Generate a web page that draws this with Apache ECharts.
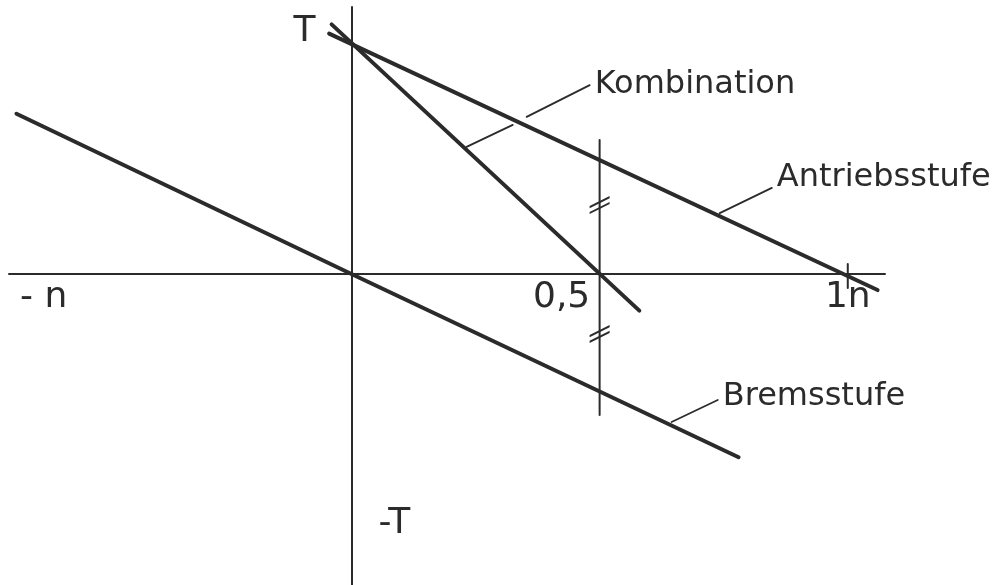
<!DOCTYPE html>
<html>
<head>
<meta charset="utf-8">
<script src="https://cdn.jsdelivr.net/npm/echarts@6/dist/echarts.min.js"></script>
<style>
html, body { margin: 0; padding: 0; background: #fff; }
#main { width: 1004px; height: 585px; }
</style>
</head>
<body>
<div id="main"></div>
<script>
// n on the x axis, T on the y axis, both scaled to 1
var xTickValues = [-0.62, 0.5, 1];
var xTickLabels = ['- n', '0,5', '1n'];
var yLabelValues = [1.06, -1.092];
var yLabelTexts = ['T', '-T'];

var antrieb = [[-0.045, 1.05], [1.06, -0.07]];
var kombination = [[-0.04, 1.09], [0.58, -0.16]];
var brems = [[-0.675, 0.70], [0, 0], [0.78, -0.80]];
var halfLine = [[0.5, 0.585], [0.5, -0.616]];
var equalMarks = [[0.5, 0.301], [0.5, -0.262]];
var unitTick = [[1, 0.044], [1, -0.061]];

var leaderNames = ['Kombination', 'Antriebsstufe', 'Bremsstufe'];
var leaders = [
  [[[0.232, 0.555], [0.325, 0.651]], [[0.353, 0.686], [0.480, 0.825]]],
  [[[0.742, 0.266], [0.847, 0.376]]],
  [[[0.645, -0.646], [0.738, -0.550]]]
];

var ink = '#2b2b2b';
var font = 'DejaVu Sans';
var labelOffsets = [[0, 0], [0, -10], [0, -3]];
var xLabelOffsets = [[0, 0], [-38, 0], [0, 0]];

function line(data, width) {
  return {
    type: 'line', data: data, showSymbol: false, silent: true, z: 3,
    lineStyle: { color: ink, width: width, cap: 'round' }
  };
}

// invisible anchor points that only carry a text label
function textPoints(items) {
  return {
    type: 'scatter', symbolSize: 0, silent: true,
    itemStyle: { opacity: 1 },
    data: items
  };
}

var series = [
  line(antrieb, 4),
  line(kombination, 4),
  line(brems, 4),
  line(halfLine, 2),
  line(unitTick, 2)
];

leaders.forEach(function (segs, i) {
  segs.forEach(function (s) { series.push(line(s, 1.8)); });
  var last = segs[segs.length - 1];
  series.push(textPoints([{
    value: last[1],
    label: {
      show: true, position: 'right', distance: 5, offset: labelOffsets[i],
      formatter: leaderNames[i], color: ink, fontFamily: font, fontSize: 32
    }
  }]));
});

series.push(textPoints(xTickValues.map(function (v, i) {
  return {
    value: [v, 0],
    label: {
      show: true, formatter: xTickLabels[i], position: 'bottom', distance: 6,
      offset: xLabelOffsets[i],
      color: ink, fontFamily: font, fontSize: 36
    }
  };
})));

series.push(textPoints(yLabelValues.map(function (v, i) {
  return {
    value: [0, v],
    label: {
      show: true, formatter: yLabelTexts[i],
      position: v > 0 ? 'left' : 'right', distance: v > 0 ? 36 : 27,
      color: ink, fontFamily: font, fontSize: 36
    }
  };
})));

series.push({
  type: 'scatter', silent: true,
  symbol: 'path://M0,10 L20,0 L20,2.2 L0,12.2 Z M0,15.8 L20,5.8 L20,8 L0,18 Z',
  symbolSize: [20, 18],
  itemStyle: { color: ink, opacity: 1 },
  data: equalMarks
});

var myChart = echarts.init(document.getElementById('main'));
var option = {
  animation: false,
  grid: { left: 9, right: 119, top: 7, bottom: 0, outerBoundsMode: 'none' },
  xAxis: {
    type: 'value', min: -0.69, max: 1.075,
    splitLine: { show: false },
    axisTick: { show: false },
    axisLabel: { show: false },
    axisLine: { onZero: true, lineStyle: { color: ink, width: 2 } }
  },
  yAxis: {
    type: 'value', min: -1.358, max: 1.166,
    splitLine: { show: false },
    axisTick: { show: false },
    axisLabel: { show: false },
    axisLine: { onZero: true, lineStyle: { color: ink, width: 2 } }
  },
  series: series
};
myChart.setOption(option);
</script>
</body>
</html>
